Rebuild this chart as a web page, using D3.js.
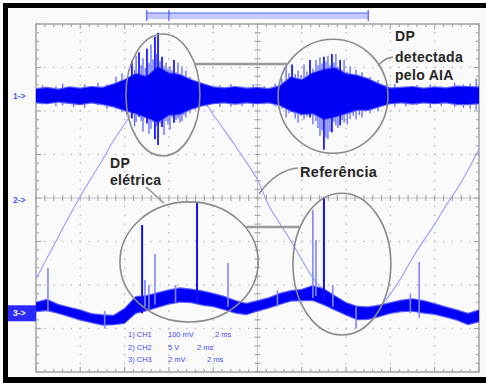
<!DOCTYPE html>
<html>
<head>
<meta charset="utf-8">
<script src="https://cdn.jsdelivr.net/npm/d3@7"></script>
<style>
html, body { margin: 0; padding: 0; background: #fafafa; }
svg { display: block; font-family: "Liberation Sans", Arial, sans-serif; }
</style>
</head>
<body>
<div id="scope"></div>
<script>
// sample grid (ms) shared by the traces
const timeMs = [0, 0.5, 1, 1.5, 2, 2.5, 3, 3.5, 4, 4.5, 5, 5.5, 6, 6.5, 7, 7.5, 8, 8.5, 9, 9.5,
  10, 10.5, 11, 11.5, 12, 12.5, 13, 13.5, 14, 14.5, 15, 15.5, 16, 16.5, 17, 17.5, 18, 18.5, 19, 19.5, 20];

// CH1 (AIA sensor) dense-noise envelope, mV
const ch1Upper = [15, 18, 14, 19, 16, 20, 18, 26, 36, 50, 44, 66, 52, 48, 36, 27, 19, 17, 20, 16,
  18, 15, 22, 42, 36, 52, 60, 64, 50, 46, 38, 26, 17, 18, 20, 16, 19, 17, 21, 20, 19];
const ch1Lower = [-15, -17, -13, -16, -19, -15, -19, -24, -33, -40, -50, -60, -44, -42, -30, -22, -17, -15, -18, -15,
  -17, -15, -21, -34, -42, -40, -54, -48, -40, -32, -32, -24, -17, -15, -18, -15, -17, -15, -19, -19, -17];
// CH1 spikes: [ms, top mV, bottom mV, strong]
const ch1Spikes = [
  [0.3, 24, -20, 0], [0.9, 22, -24, 0], [1.2, 28, -22, 0], [1.7, 21, -26, 0], [2.2, 26, -28, 0], [2.8, 30, -22, 0],
  [3.2, 26, -30, 0], [3.61, 44, -30, 0], [3.88, 52, -38, 0], [4.1, 40, -44, 0],
  [4.33, 80, -52, 1], [4.45, 60, -70, 0], [4.52, 92, -60, 0], [4.65, 100, -48, 1], [4.75, 70, -58, 0], [4.83, 86, -82, 0],
  [4.93, 64, -50, 0], [5.01, 108, -64, 1], [5.1, 76, -88, 0], [5.19, 118, -76, 0], [5.28, 84, -60, 0],
  [5.37, 136, -100, 1], [5.45, 96, -70, 0], [5.51, 145, -113, 1], [5.6, 80, -64, 0], [5.69, 90, -72, 1],
  [5.78, 68, -90, 0], [5.87, 76, -58, 0], [5.96, 62, -66, 0], [6.05, 68, -78, 0], [6.14, 58, -50, 0],
  [6.23, 82, -62, 1], [6.32, 54, -56, 0], [6.41, 76, -52, 0], [6.5, 50, -62, 0], [6.59, 68, -58, 0],
  [6.68, 46, -44, 0], [6.77, 58, -50, 0], [6.95, 44, -40, 0], [7.2, 34, -32, 0],
  [7.7, 26, -24, 0], [8.3, 24, -26, 0], [8.8, 27, -25, 0], [9.3, 22, -24, 0], [9.8, 26, -26, 0], [10.3, 22, -20, 0], [10.8, 28, -24, 0],
  [11.1, 40, -30, 0], [11.29, 68, -50, 0], [11.42, 52, -40, 0], [11.56, 72, -36, 1], [11.7, 50, -52, 0],
  [11.83, 58, -62, 0], [11.96, 48, -46, 0], [12.10, 72, -54, 0], [12.23, 56, -48, 0], [12.37, 82, -50, 1],
  [12.5, 62, -66, 0], [12.64, 82, -58, 0], [12.73, 70, -74, 0], [12.82, 88, -92, 0], [12.91, 74, -80, 0],
  [13.00, 90, -124, 1], [13.09, 78, -96, 0], [13.18, 92, -100, 0], [13.27, 70, -82, 0], [13.36, 96, -84, 1],
  [13.45, 76, -60, 0], [13.54, 96, -68, 0], [13.63, 66, -74, 0], [13.73, 82, -68, 1], [13.82, 60, -56, 0],
  [13.91, 82, -62, 0], [14.05, 56, -66, 0], [14.18, 68, -54, 0], [14.32, 50, -46, 0], [14.45, 60, -54, 0],
  [14.6, 46, -44, 0], [14.72, 54, -50, 0], [14.9, 40, -36, 0], [15.08, 44, -40, 0], [15.25, 34, -30, 0], [15.44, 36, -36, 0],
  [15.8, 24, -22, 0], [16.2, 27, -25, 0], [16.7, 22, -24, 0], [17.2, 25, -21, 0], [17.8, 26, -28, 0],
  [18.3, 22, -24, 0], [18.9, 30, -26, 0], [19.3, 26, -28, 0], [19.6, 28, -30, 0], [19.87, 40, -32, 0]
];

// CH2 reference (supply voltage), V
const ch2Volts = [-9.3, -6.9, -4.5, -2.1, 0.2, 2.3, 4.4, 6.6, 8.5, 10.3, 11.7, 12.8, 13.5, 13.6, 13.0, 11.5, 9.6, 7.8, 6.0, 4.1,
  2.1, -0.8, -2.9, -4.9, -7.1, -9.2, -10.6, -11.6, -12.3, -12.7, -12.8, -12.5, -11.0, -9.1, -6.9, -4.9, -3.0, -0.9, 1.0, 3.2, 5.6];

// CH3 (electrical PD) mid line and half band, mV
const ch3Mid = [0.29, 0.38, 0.20, 0.06, -0.08, -0.22, -0.31, -0.31, -0.12, 0.38, 0.47, 0.61, 0.75, 0.84, 0.80, 0.70, 0.61, 0.47, 0.29, 0.20,
  0.34, 0.47, 0.66, 0.80, 0.84, 0.93, 0.75, 0.47, 0.20, 0.01, 0.01, 0.11, 0.24, 0.34, 0.38, 0.29, 0.20, 0.06, -0.08, -0.26, -0.12];
const ch3Spread = [0.19, 0.23, 0.18, 0.19, 0.21, 0.18, 0.21, 0.19, 0.32, 0.36, 0.32, 0.31, 0.30, 0.30, 0.28, 0.30, 0.28, 0.28, 0.26, 0.23,
  0.21, 0.21, 0.23, 0.21, 0.23, 0.32, 0.34, 0.30, 0.26, 0.28, 0.26, 0.24, 0.22, 0.24, 0.26, 0.26, 0.22, 0.21, 0.21, 0.23, 0.25];
const ch3Spikes = [
  [0.54, 2.08, 0.06, 0], [3.1, 0.1, -0.7, 0], [4.79, 4.06, 0.0, 1], [4.92, 1.53, 0.3, 0], [5.1, 1.3, 0.2, 0],
  [5.37, 2.73, 0.4, 0], [6.3, 1.3, 0.5, 0], [7.27, 5.12, 0.5, 1], [8.67, 2.31, 0.3, 0], [10.9, 1.05, 0.3, 0],
  [12.5, 4.75, 0.7, 0], [12.64, 3.37, 0.8, 0], [13.0, 5.35, 0.6, 1], [13.4, 1.3, 0.3, 0], [14.45, 0.3, -0.7, 0],
  [16.9, 0.9, 0.0, 0], [17.3, 2.36, -0.2, 0]
];

const legendLabels = ['1) CH1', '2) CH2', '3) CH3'];
const legendScales = ['100 mV', '5 V', '2 mV'];
const legendTimes = ['2 ms', '2 ms', '2 ms'];

const W = 486, H = 383;
const plot = { left: 36, right: 479, top: 24, bottom: 372 };

const svg = d3.select('#scope').append('svg')
  .attr('width', W).attr('height', H);
svg.append('rect').attr('width', W).attr('height', H).attr('fill', '#fafafa');

const x = d3.scaleLinear().domain([0, 20]).range([plot.left, plot.right]);
const y = d3.scaleLinear().domain([-4, 4]).range([plot.bottom, plot.top]);

// channel offsets in divisions, volts/div
const ch1Div = v => 2.35 + v / 100;
const ch2Div = v => v / 5;
const ch3Div = v => -2.65 + v / 2;

// --- graticule ---
const grid = svg.append('g');
const gridColor = '#a8a8a8';
const xMinor = d3.range(0, 20.001, 0.4);
const yMinor = d3.range(-4, 4.001, 0.2);
const xMajor = [2, 4, 6, 8, 12, 14, 16, 18];
const yMajor = [-3, -2, -1, 1, 2, 3];

xMajor.forEach(t => {
  grid.selectAll(null).data(yMinor).enter().append('rect')
    .attr('x', x(t) - 0.7).attr('y', d => y(d) - 0.7)
    .attr('width', 1.4).attr('height', 1.4).attr('fill', '#b8b8b8');
});
yMajor.forEach(dv => {
  grid.selectAll(null).data(xMinor).enter().append('rect')
    .attr('x', d => x(d) - 0.7).attr('y', y(dv) - 0.7)
    .attr('width', 1.4).attr('height', 1.4).attr('fill', '#b8b8b8');
});

// centre cross with ticks
grid.append('line').attr('x1', x(0)).attr('x2', x(20)).attr('y1', y(0)).attr('y2', y(0))
  .attr('stroke', '#c4c4c4').attr('stroke-width', 1);
grid.append('line').attr('x1', x(10)).attr('x2', x(10)).attr('y1', y(-4)).attr('y2', y(4))
  .attr('stroke', '#c4c4c4').attr('stroke-width', 1);
grid.selectAll('.hx').data(xMinor).enter().append('line')
  .attr('x1', d => x(d)).attr('x2', d => x(d))
  .attr('y1', y(0) - 3).attr('y2', y(0) + 3)
  .attr('stroke', gridColor).attr('stroke-width', 1.2);
grid.selectAll('.vy').data(yMinor).enter().append('line')
  .attr('x1', x(10) - 3).attr('x2', x(10) + 3)
  .attr('y1', d => y(d)).attr('y2', d => y(d))
  .attr('stroke', gridColor).attr('stroke-width', 1.2);

// border + inward ticks
grid.append('rect')
  .attr('x', plot.left).attr('y', plot.top)
  .attr('width', plot.right - plot.left).attr('height', plot.bottom - plot.top)
  .attr('fill', 'none').attr('stroke', gridColor).attr('stroke-width', 1.6);
const tickLen = d => (Math.abs(d - Math.round(d)) < 1e-6 ? 5 : 3);
grid.selectAll('.tt').data(xMinor).enter().append('line')
  .attr('x1', d => x(d)).attr('x2', d => x(d))
  .attr('y1', plot.top).attr('y2', d => plot.top + tickLen(d / 2))
  .attr('stroke', gridColor).attr('stroke-width', 1.2);
grid.selectAll('.tb').data(xMinor).enter().append('line')
  .attr('x1', d => x(d)).attr('x2', d => x(d))
  .attr('y1', plot.bottom).attr('y2', d => plot.bottom - tickLen(d / 2))
  .attr('stroke', gridColor).attr('stroke-width', 1.2);
grid.selectAll('.tl').data(yMinor).enter().append('line')
  .attr('x1', plot.left).attr('x2', d => plot.left + tickLen(d))
  .attr('y1', d => y(d)).attr('y2', d => y(d))
  .attr('stroke', gridColor).attr('stroke-width', 1.2);
grid.selectAll('.tr').data(yMinor).enter().append('line')
  .attr('x1', plot.right).attr('x2', d => plot.right - tickLen(d))
  .attr('y1', d => y(d)).attr('y2', d => y(d))
  .attr('stroke', gridColor).attr('stroke-width', 1.2);

// --- traces ---
svg.append('clipPath').attr('id', 'clip').append('rect')
  .attr('x', plot.left).attr('y', plot.top)
  .attr('width', plot.right - plot.left).attr('height', plot.bottom - plot.top);
const traces = svg.append('g').attr('clip-path', 'url(#clip)');

// CH2 reference
const ch2Line = d3.line()
  .x((d, i) => x(timeMs[i]))
  .y(d => y(ch2Div(d)))
  .curve(d3.curveMonotoneX);
traces.append('path').datum(ch2Volts)
  .attr('d', ch2Line)
  .attr('fill', 'none').attr('stroke', '#949eff').attr('stroke-width', 1.1);

// CH3
const ch3Area = pad => d3.area()
  .x((d, i) => x(timeMs[i]))
  .y0((d, i) => y(ch3Div(d - ch3Spread[i])) + pad)
  .y1((d, i) => y(ch3Div(d + ch3Spread[i])) - pad)
  .curve(d3.curveLinear);
traces.append('path').datum(ch3Mid).attr('d', ch3Area(1.2)).attr('fill', '#5c5cff');
traces.append('path').datum(ch3Mid).attr('d', ch3Area(0)).attr('fill', '#0000f4');
traces.selectAll('.s3').data(ch3Spikes).enter().append('line')
  .attr('x1', d => x(d[0])).attr('x2', d => x(d[0]))
  .attr('y1', d => y(ch3Div(d[1]))).attr('y2', d => y(ch3Div(d[2])))
  .attr('stroke', d => d[3] ? '#1010ff' : '#7f86ff')
  .attr('stroke-width', d => d[3] ? 2 : 1.6);

// CH1
const ch1Area = pad => d3.area()
  .x((d, i) => x(timeMs[i]))
  .y0((d, i) => y(ch1Div(ch1Lower[i])) + pad)
  .y1(d => y(ch1Div(d)) - pad)
  .curve(d3.curveLinear);
traces.append('path').datum(ch1Upper).attr('d', ch1Area(1.2)).attr('fill', '#5c5cff');
traces.selectAll('.s1').data(ch1Spikes).enter().append('line')
  .attr('x1', d => x(d[0])).attr('x2', d => x(d[0]))
  .attr('y1', d => y(ch1Div(d[1]))).attr('y2', d => y(ch1Div(d[2])))
  .attr('stroke', d => d[3] ? '#1a1aff' : '#6068ff')
  .attr('stroke-width', d => d[3] ? 1.8 : 1.3);
traces.append('path').datum(ch1Upper).attr('d', ch1Area(0)).attr('fill', '#0000f4');

// --- annotations ---
const ann = svg.append('g');
const annColor = '#8a8a8a';
const ellipses = [
  { t: 5.73, d: 2.37, rt: 1.67, rd: 1.40 },
  { t: 13.41, d: 2.34, rt: 2.48, rd: 1.31 },
  { t: 6.91, d: -1.47, rt: 3.12, rd: 1.38 },
  { t: 13.81, d: -1.52, rt: 2.21, rd: 1.63 }
];
ann.selectAll('ellipse').data(ellipses).enter().append('ellipse')
  .attr('cx', e => x(e.t)).attr('cy', e => y(e.d))
  .attr('rx', e => x(e.rt) - x(0)).attr('ry', e => y(0) - y(e.rd))
  .attr('fill', 'none').attr('stroke', annColor).attr('stroke-width', 1.6);

const bridges = [[7.18, 11.38, 3.08], [9.44, 11.92, -0.667]];
ann.selectAll('.br').data(bridges).enter().append('line')
  .attr('x1', b => x(b[0])).attr('x2', b => x(b[1]))
  .attr('y1', b => y(b[2])).attr('y2', b => y(b[2]))
  .attr('stroke', '#9a9a9a').attr('stroke-width', 2.4);

// leaders
ann.append('path').attr('d', 'M378,66 Q384,58 393,57')
  .attr('fill', 'none').attr('stroke', annColor).attr('stroke-width', 1.4);
ann.append('path').attr('d', 'M298,168 Q276,170 259,194')
  .attr('fill', 'none').attr('stroke', annColor).attr('stroke-width', 1.4);
ann.append('path').attr('d', 'M146,187 L164,203')
  .attr('fill', 'none').attr('stroke', annColor).attr('stroke-width', 1.4);

const label = (txt, lx, ly, size) => ann.append('text')
  .attr('x', lx).attr('y', ly).text(txt)
  .attr('font-size', size).attr('font-weight', 'bold')
  .attr('fill', '#262626').attr('letter-spacing', 0.3);
label('DP', 395, 41, 14);
label('detectada', 395, 62, 14);
label('pelo AIA', 395, 80, 14);
label('DP', 110, 168, 14);
label('elétrica', 110, 185, 14);
label('Referência', 300, 177, 14.5);

// channel markers
const mk = svg.append('g').attr('font-size', 8.5).attr('font-weight', 'bold');
mk.append('text').attr('x', 13).attr('y', y(ch1Div(0)) + 3).attr('fill', '#4a5cff').text('1->');
mk.append('text').attr('x', 13).attr('y', y(ch2Div(0)) + 5).attr('fill', '#4a5cff').text('2->');
mk.append('rect').attr('x', 8).attr('y', y(ch3Div(0)) - 8).attr('width', 28).attr('height', 16).attr('fill', '#2a2aff');
mk.append('text').attr('x', 13).attr('y', y(ch3Div(0)) + 3).attr('fill', '#ffffff').text('3->');

// memory / trigger bar
const bar = svg.append('g');
bar.append('rect').attr('x', x(5)).attr('y', 13).attr('width', x(15) - x(5)).attr('height', 6)
  .attr('fill', '#c4caff');
bar.append('line').attr('x1', x(5)).attr('x2', x(15)).attr('y1', 13).attr('y2', 13)
  .attr('stroke', '#5866ff').attr('stroke-width', 1.2);
bar.selectAll('.bt').data([5, 6, 15]).enter().append('line')
  .attr('x1', d => x(d)).attr('x2', d => x(d)).attr('y1', 10).attr('y2', 21)
  .attr('stroke', '#5866ff').attr('stroke-width', 1.3);

// scale legend
const lg = svg.append('g').attr('font-size', 7.5).attr('fill', '#3d4dff');
const timeX = [215, 197, 207];
legendLabels.forEach((l, i) => {
  const ly = 337 + i * 12.5;
  lg.append('text').attr('x', 128).attr('y', ly).text(l);
  lg.append('text').attr('x', 168).attr('y', ly).text(legendScales[i]);
  lg.append('text').attr('x', timeX[i]).attr('y', ly).text(legendTimes[i]);
});

// black frame
const frame = svg.append('g').attr('fill', '#000');
frame.append('rect').attr('x', 3).attr('y', 3).attr('width', W - 3).attr('height', 5);
frame.append('rect').attr('x', 3).attr('y', 3).attr('width', 5).attr('height', H - 3);
frame.append('rect').attr('x', 3).attr('y', 377).attr('width', W - 3).attr('height', 6);
</script>
</body>
</html>
